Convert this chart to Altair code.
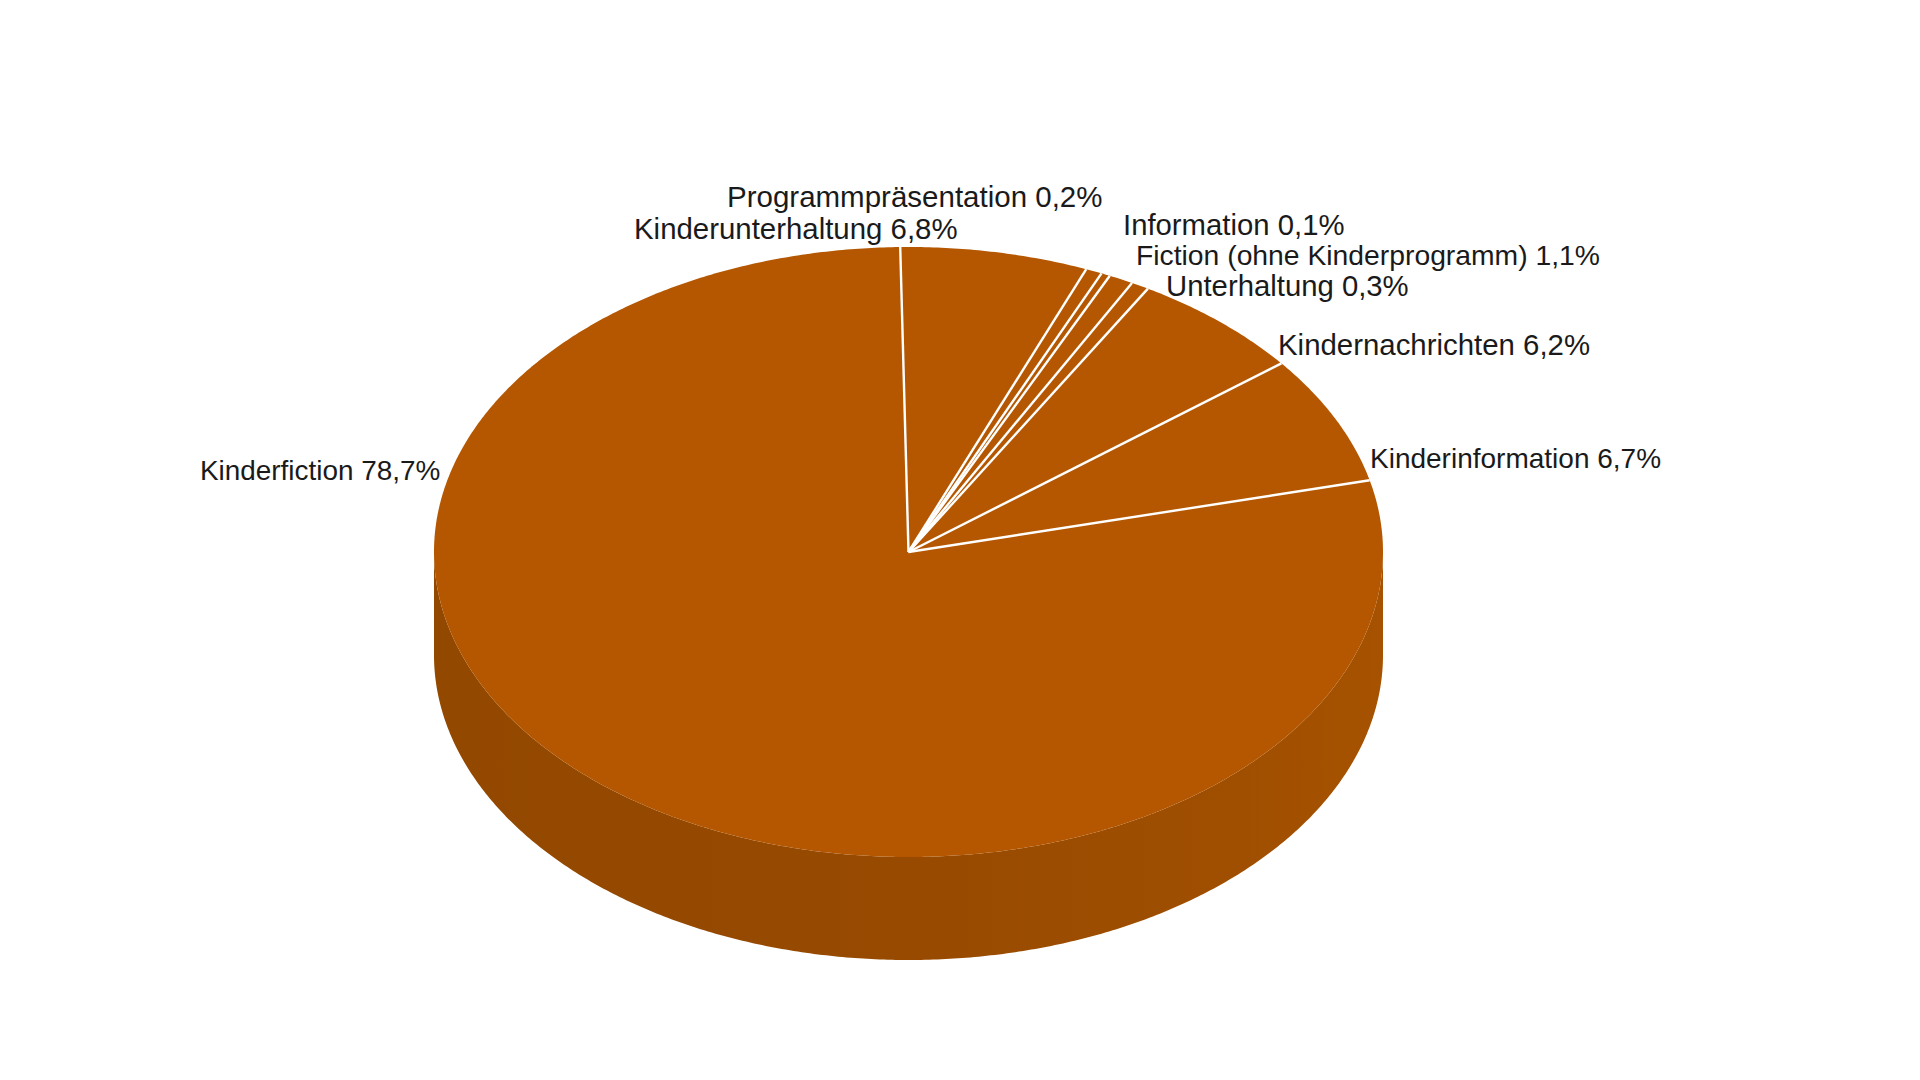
import math
import altair as alt
import pandas as pd

# Labels as printed in the chart
categories = ["Kinderunterhaltung", "Programmpräsentation", "Information",
              "Fiction (ohne Kinderprogramm)", "Unterhaltung", "Kindernachrichten",
              "Kinderinformation", "Kinderfiction"]
values = ["6,8%", "0,2%", "0,1%", "1,1%", "0,3%", "6,2%", "6,7%", "78,7%"]
# Opening edge of each slice in degrees clockwise from the top
edges = [-1.0, 22.0, 24.0, 25.1, 28.1, 30.3, 51.8, 76.4]
# Layout of the labels (page pixels)
label_x = [634, 727, 1123, 1136, 1166, 1278, 1370, 200]
label_y = [230, 198, 226, 257, 287, 346, 460, 472]
label_size = [29.4, 29.5, 29.3, 28.3, 29.3, 29.4, 28.0, 27.9]

CX, CY, RX, RY, DEPTH = 908.5, 552, 474.5, 305, 103
W, H = 1904, 1064
steps = 360

x_scale = alt.Scale(domain=[8, 8 + W], nice=False, zero=False)
y_scale = alt.Scale(domain=[8 + H, 8], nice=False, zero=False)
X = alt.X("x:Q", scale=x_scale, axis=None)
Y = alt.Y("y:Q", scale=y_scale, axis=None)

rim = []
for i in range(steps + 1):
    t = math.pi * i / steps
    x = CX - RX * math.cos(t)
    half = RY * math.sin(t)
    rim.append({"x": x, "y": CY + half, "y2": CY + half + DEPTH, "top": CY - half, "bot": CY + half})
rim = pd.DataFrame(rim)

side = alt.Chart(rim).mark_area(
    color=alt.Gradient(
        gradient="linear", x1=0, y1=0, x2=1, y2=0,
        stops=[
            alt.GradientStop(offset=0, color="#934800"),
            alt.GradientStop(offset=0.5, color="#974a00"),
            alt.GradientStop(offset=0.85, color="#a04f00"),
            alt.GradientStop(offset=1, color="#a65200"),
        ],
    )
).encode(x=X, y=Y, y2="y2:Q")

top = alt.Chart(rim).mark_area(color="#b45700").encode(
    x=X, y=alt.Y("top:Q", scale=y_scale, axis=None), y2="bot:Q"
)

spokes = pd.DataFrame([
    {"x": CX, "y": CY,
     "x2": CX + RX * math.sin(math.radians(a)),
     "y2": CY - RY * math.cos(math.radians(a))}
    for a in edges
])
rules = alt.Chart(spokes).mark_rule(color="#ffffff", strokeWidth=2.4).encode(
    x=X, y=Y, x2="x2:Q", y2="y2:Q"
)

labels = pd.DataFrame({
    "text": [f"{c} {v}" for c, v in zip(categories, values)],
    "x": label_x,
    "y": label_y,
    "s": label_size,
})
text = alt.Chart(labels).mark_text(
    font="Liberation Sans", align="left", baseline="middle", color="#1a1a1a"
).encode(x=X, y=Y, text="text:N", size=alt.Size("s:Q", scale=None, legend=None))

chart = (
    alt.layer(side, top, rules, text)
    .properties(width=W, height=H, padding=0, background="#ffffff")
    .configure_view(stroke=None)
)
chart.save("out.html", embed_options={"renderer": "svg", "actions": False})
